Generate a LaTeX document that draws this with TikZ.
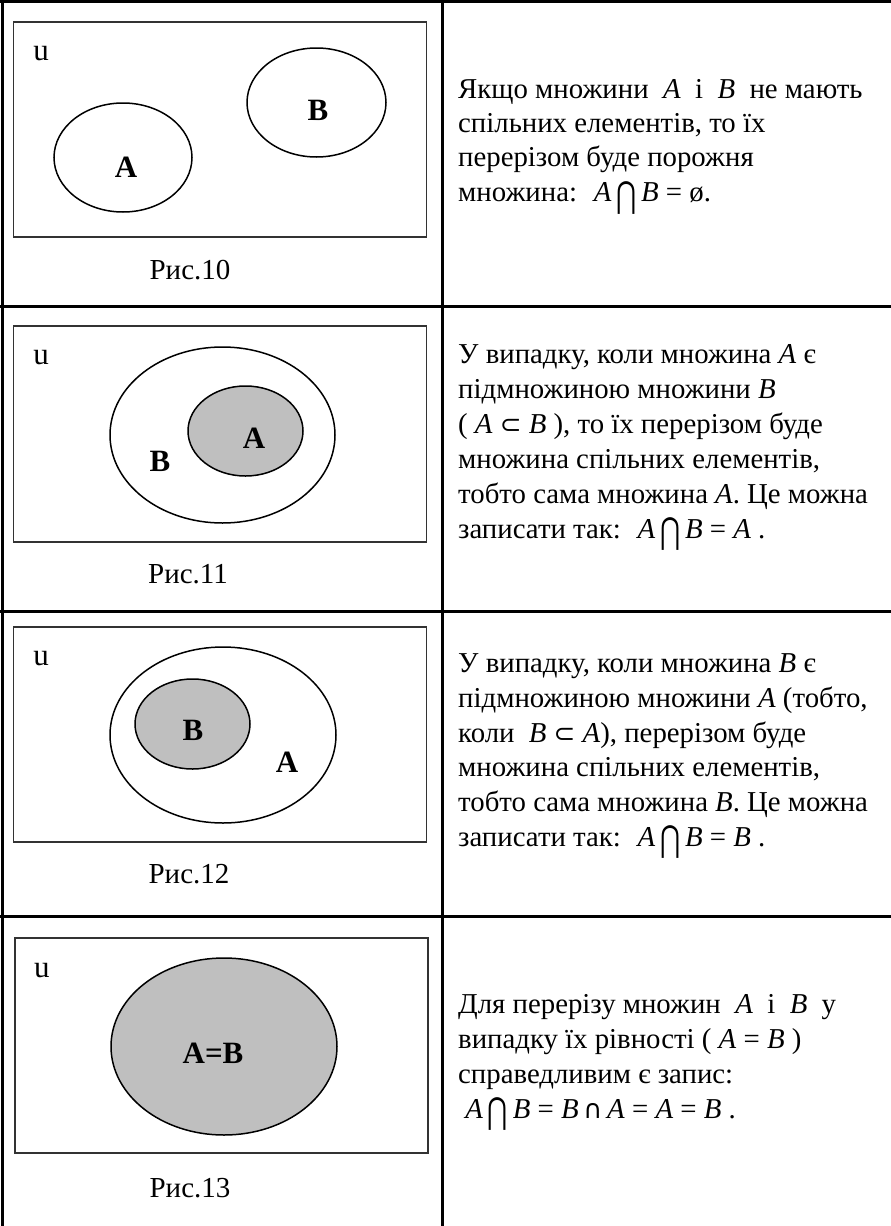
\documentclass[tikz,border=0pt]{standalone}
\usepackage{fontspec}
\setmainfont{Liberation Serif}
\newfontfamily\symfont{DejaVu Sans}
\newcommand{\ia}{\textit{A}}
\newcommand{\ib}{\textit{B}}
\newcommand{\mybigcap}{\,\raisebox{-0.2em}{\scalebox{0.85}[1.25]{\symfont ⋂}}\,}
\newcommand{\mysubs}{{\symfont\scalebox{0.9}{⊂}}}
\newcommand{\mysmallcap}{\,{\symfont\scalebox{0.9}{∩}}\,}
\begin{document}
\begin{tikzpicture}[x=1pt,y=-1pt,
  grid/.style={line width=2.6pt,black},
  frame/.style={draw=black!80,line width=1.6pt},
  setell/.style={draw=black,line width=1.5pt},
  shaded/.style={setell,fill=gray!50},
  lbl/.style={font=\fontsize{31}{31}\selectfont\bfseries,inner sep=0pt},
  ulbl/.style={font=\fontsize{31}{31}\selectfont,inner sep=0pt,anchor=base},
  figcap/.style={font=\fontsize{29}{29}\selectfont,inner sep=0pt,anchor=base},
  txt/.style={font=\fontsize{28.8}{28.8}\selectfont,inner sep=0pt,anchor=base west}]
\useasboundingbox (0,0) rectangle (891,1226);
% table
\draw[grid] (2.5,0) -- (2.5,1226);
\draw[grid] (0,1.5) -- (891,1.5);
\draw[grid] (442.7,0) -- (442.7,1226);
\draw[grid] (0,306.5) -- (891,306.5);
\draw[grid] (0,611.7) -- (891,611.7);
\draw[grid] (0,916.2) -- (891,916.2);

% ---- Row 1 ----
\draw[frame] (13.5,22) rectangle (426.5,237);
\node[ulbl] (u1) at (41,60) {u};
\draw[setell] (123,157.5) ellipse [x radius=69, y radius=54.5];
\draw[setell] (316.5,102.5) ellipse [x radius=69.5, y radius=54.5];
\node[lbl] (a1) at (126,167) {A};
\node[lbl] (b1) at (318,110) {B};
\node[figcap] (c1) at (190,279) {Рис.10};
\node[txt] (t11) at (458,98.5) {Якщо множини \ \ia{} \ і \ \ib{} \ не мають};
\node[txt] (t12) at (458,132.5) {спільних елементів, то їх};
\node[txt] (t13) at (458,166.5) {перерізом буде порожня};
\node[txt] (t14) at (458,201.5) {множина: \ \ia\mybigcap\ib{} = ø.};

% ---- Row 2 ----
\draw[frame] (13.5,326) rectangle (426.5,542);
\node[ulbl] (u2) at (41,364) {u};
\draw[setell] (222.5,435) ellipse [x radius=112.5, y radius=88];
\draw[shaded] (245.5,431) ellipse [x radius=57.5, y radius=45];
\node[lbl] (a2) at (254,438) {A};
\node[lbl] (b2) at (160,461) {B};
\node[figcap] (c2) at (188,583) {Рис.11};
\node[txt] (t21) at (458,363) {У випадку, коли множина \ia{} є};
\node[txt] (t22) at (458,398) {підмножиною множини \ib};
\node[txt] (t23) at (458,433) {( \ia{} \mysubs{} \ib{} ), то їх перерізом буде};
\node[txt] (t24) at (458,468) {множина спільних елементів,};
\node[txt] (t25) at (458,503) {тобто сама множина \ia. Це можна};
\node[txt] (t26) at (458,538) {записати так: \ \ia\mybigcap\ib{} = \ia{} .};

% ---- Row 3 ----
\draw[frame] (13.5,627) rectangle (426.5,842);
\node[ulbl] (u3) at (41,665) {u};
\draw[setell] (223,735) ellipse [x radius=113, y radius=88];
\draw[shaded] (192.5,724) ellipse [x radius=57.5, y radius=45];
\node[lbl] (b3) at (193,730) {B};
\node[lbl] (a3) at (287,762) {A};
\node[figcap] (c3) at (189,883) {Рис.12};
\node[txt] (t31) at (458,672) {У випадку, коли множина \ib{} є};
\node[txt] (t32) at (458,707) {підмножиною множини \ia{} (тобто,};
\node[txt] (t33) at (458,742) {коли \ \ib{} \mysubs{} \ia{}), перерізом буде};
\node[txt] (t34) at (458,776) {множина спільних елементів,};
\node[txt] (t35) at (458,811) {тобто сама множина \ib. Це можна};
\node[txt] (t36) at (458,846) {записати так: \ \ia\mybigcap\ib{} = \ib{} .};

% ---- Row 4 ----
\draw[frame] (15,938) rectangle (428,1153);
\node[ulbl] (u4) at (42,977) {u};
\draw[shaded] (224,1046.5) ellipse [x radius=113, y radius=88.5];
\node[lbl] (ab4) at (213,1053) {A=B};
\node[figcap] (c4) at (190,1197) {Рис.13};
\node[txt] (t41) at (458,1013) {Для перерізу множин \ \ia{} \ і \ \ib{} \ у};
\node[txt] (t42) at (458,1048) {випадку їх рівності ( \ia{} = \ib{} )};
\node[txt] (t43) at (458,1083) {справедливим є запис:};
\node[txt] (t44) at (458,1118) {\ \ia\mybigcap\ib{} = \ib\mysmallcap\ia{} = \ia{} = \ib{} .};
\end{tikzpicture}
\end{document}
